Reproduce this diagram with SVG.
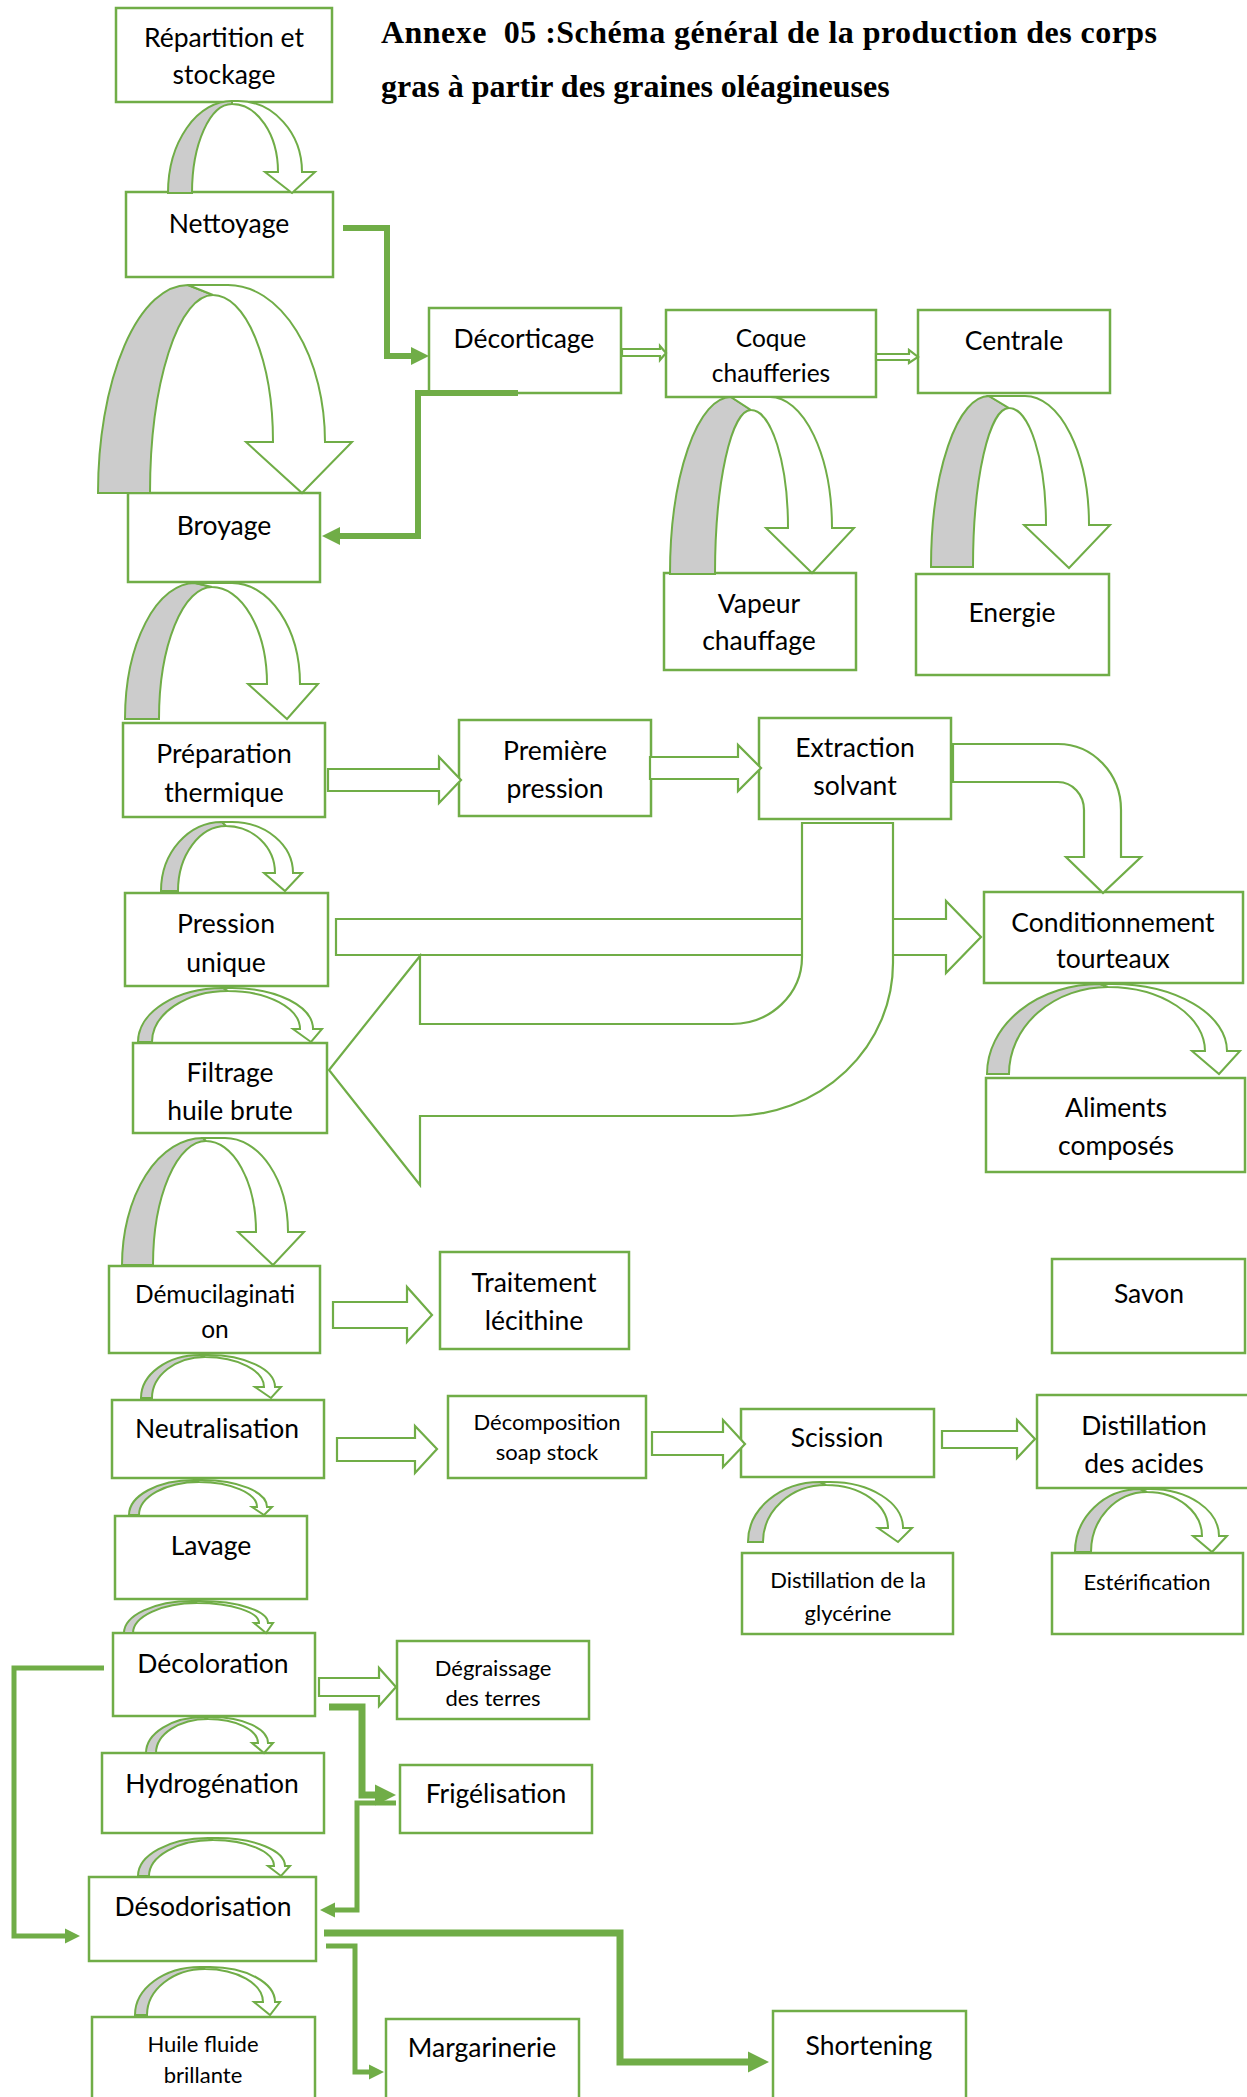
<svg xmlns="http://www.w3.org/2000/svg" width="1247" height="2097" viewBox="0 0 1247 2097">
<style>
.box{fill:#fff;stroke:#70AD47;stroke-width:2.5}
.t{font-family:Lato,"Liberation Sans",sans-serif;font-size:26.5px;fill:#000;text-anchor:middle}
.s{font-size:22px}
.m{font-size:24.5px}
.gr{fill:#CCCCCC;stroke:#70AD47;stroke-width:2;stroke-linejoin:miter}
.wh{fill:#fff;stroke:#70AD47;stroke-width:2;stroke-linejoin:miter}
.blk{fill:#fff;stroke:#70AD47;stroke-width:2.2}
.thk{fill:none;stroke:#70AD47;stroke-linejoin:miter}
.title{font-family:"Liberation Serif","Times New Roman",serif;font-weight:bold;font-size:32px;fill:#000}
</style>
<defs>
<marker id="ah" viewBox="0 0 10 10" refX="0" refY="5" markerWidth="3" markerHeight="3.4" markerUnits="strokeWidth" orient="auto">
<path d="M0,0 L10,5 L0,10 z" fill="#70AD47"/>
</marker>
</defs>
<rect width="1247" height="2097" fill="#fff"/>

<g id="title">
<text class="title" x="381" y="43" xml:space="preserve" textLength="776" lengthAdjust="spacing">Annexe  05 :Schéma général de la production des corps</text>
<text class="title" x="381" y="97">gras à partir des graines oléagineuses</text>
</g>

<g id="n-repartition"><rect class="box" x="116" y="8" width="216" height="94"/><text class="t" x="224" y="47">Répartition et</text><text class="t" x="224" y="84">stockage</text></g>
<g id="n-nettoyage"><rect class="box" x="126" y="192" width="207" height="85"/><text class="t" x="229" y="233">Nettoyage</text></g>
<g id="n-decorticage"><rect class="box" x="429" y="308" width="192" height="85"/><text class="t" x="524" y="348">Décorticage</text></g>
<g id="n-coque"><rect class="box" x="666" y="310" width="210" height="87"/><text class="t m" x="771" y="347">Coque</text><text class="t m" x="771" y="382">chaufferies</text></g>
<g id="n-centrale"><rect class="box" x="918" y="310" width="192" height="83"/><text class="t" x="1014" y="350">Centrale</text></g>
<g id="n-vapeur"><rect class="box" x="664" y="573" width="192" height="97"/><text class="t" x="759" y="613">Vapeur</text><text class="t" x="759" y="650">chauffage</text></g>
<g id="n-energie"><rect class="box" x="916" y="574" width="193" height="101"/><text class="t" x="1012" y="622">Energie</text></g>
<g id="n-broyage"><rect class="box" x="128" y="493" width="192" height="89"/><text class="t" x="224" y="535">Broyage</text></g>
<g id="n-preparation"><rect class="box" x="123" y="723" width="202" height="94"/><text class="t" x="224" y="763">Préparation</text><text class="t" x="224" y="802">thermique</text></g>
<g id="n-premiere"><rect class="box" x="459" y="720" width="192" height="96"/><text class="t" x="555" y="760">Première</text><text class="t" x="555" y="798">pression</text></g>
<g id="n-extraction"><rect class="box" x="759" y="718" width="192" height="101"/><text class="t" x="855" y="757">Extraction</text><text class="t" x="855" y="795">solvant</text></g>
<g id="n-conditionnement"><rect class="box" x="984" y="892" width="259" height="91"/><text class="t" x="1113" y="932">Conditionnement</text><text class="t" x="1113" y="968">tourteaux</text></g>
<g id="n-aliments"><rect class="box" x="986" y="1078" width="259" height="94"/><text class="t" x="1116" y="1117">Aliments</text><text class="t" x="1116" y="1155">composés</text></g>
<g id="n-pression"><rect class="box" x="125" y="893" width="203" height="93"/><text class="t" x="226" y="933">Pression</text><text class="t" x="226" y="972">unique</text></g>
<g id="n-filtrage"><rect class="box" x="133" y="1043" width="194" height="90"/><text class="t" x="230" y="1082">Filtrage</text><text class="t" x="230" y="1120">huile brute</text></g>
<g id="n-demucilagination"><rect class="box" x="109" y="1266" width="211" height="87"/><text class="t m" x="215" y="1303">Démucilaginati</text><text class="t m" x="215" y="1338">on</text></g>
<g id="n-traitement"><rect class="box" x="440" y="1252" width="189" height="97"/><text class="t" x="534" y="1292">Traitement</text><text class="t" x="534" y="1330">lécithine</text></g>
<g id="n-neutralisation"><rect class="box" x="112" y="1400" width="212" height="78"/><text class="t" x="217" y="1438">Neutralisation</text></g>
<g id="n-decomposition"><rect class="box" x="448" y="1396" width="198" height="82"/><text class="t s" x="547" y="1430">Décomposition</text><text class="t s" x="547" y="1460">soap stock</text></g>
<g id="n-lavage"><rect class="box" x="115" y="1516" width="192" height="83"/><text class="t" x="211" y="1555">Lavage</text></g>
<g id="n-scission"><rect class="box" x="741" y="1409" width="193" height="68"/><text class="t" x="837" y="1447">Scission</text></g>
<g id="n-distillation-acides"><rect class="box" x="1037" y="1395" width="215" height="93"/><text class="t" x="1144" y="1435">Distillation</text><text class="t" x="1144" y="1473">des acides</text></g>
<g id="n-savon"><rect class="box" x="1052" y="1259" width="193" height="94"/><text class="t" x="1149" y="1303">Savon</text></g>
<g id="n-glycerine"><rect class="box" x="742" y="1553" width="211" height="81"/><text class="t s" x="848" y="1588">Distillation de la</text><text class="t s" x="848" y="1621">glycérine</text></g>
<g id="n-esterification"><rect class="box" x="1052" y="1553" width="191" height="81"/><text class="t s" x="1147" y="1590">Estérification</text></g>
<g id="n-decoloration"><rect class="box" x="113" y="1633" width="202" height="83"/><text class="t" x="213" y="1673">Décoloration</text></g>
<g id="n-degraissage"><rect class="box" x="397" y="1641" width="192" height="78"/><text class="t s" x="493" y="1676">Dégraissage</text><text class="t s" x="493" y="1706">des terres</text></g>
<g id="n-frigelisation"><rect class="box" x="400" y="1765" width="192" height="68"/><text class="t" x="496" y="1803">Frigélisation</text></g>
<g id="n-hydrogenation"><rect class="box" x="102" y="1753" width="222" height="80"/><text class="t" x="212" y="1793">Hydrogénation</text></g>
<g id="n-desodorisation"><rect class="box" x="89" y="1877" width="227" height="84"/><text class="t" x="203" y="1916">Désodorisation</text></g>
<g id="n-huile"><rect class="box" x="92" y="2017" width="223" height="100"/><text class="t s" x="203" y="2052">Huile fluide</text><text class="t s" x="203" y="2083">brillante</text></g>
<g id="n-margarinerie"><rect class="box" x="386" y="2019" width="193" height="100"/><text class="t" x="482" y="2057">Margarinerie</text></g>
<g id="n-shortening"><rect class="box" x="773" y="2011" width="193" height="100"/><text class="t" x="869" y="2055">Shortening</text></g>

<g id="connectors">
<!-- curved arrows -->
<path class="gr" d="M168,193 A64,92 0 0 1 232,101 L232,104 A40,89 0 0 0 192,193 Z"/>
<path class="wh" d="M232,101 L238,101 A64,71 0 0 1 302,172 L315,172 L292,193 L265,172 L278,172 A46,68 0 0 0 232,104 Z"/>
<path class="gr" d="M98,493 A90,208 0 0 1 188,285 L213,295 A63,198 0 0 0 150,493 Z"/>
<path class="wh" d="M188,285 L228,285 A97,157 0 0 1 325,442 L352,442 L302,493 L246,442 L273,442 A60,147 0 0 0 213,295 Z"/>
<path class="gr" d="M125,719 A70,136 0 0 1 195,583 L212,587 A53,132 0 0 0 159,719 Z"/>
<path class="wh" d="M195,583 L232,583 A68,101 0 0 1 300,684 L318,684 L287,719 L248,684 L267,684 A55,97 0 0 0 212,587 Z"/>
<path class="gr" d="M161,891 A61,69 0 0 1 222,822 L226,826 A48,65 0 0 0 178,891 Z"/>
<path class="wh" d="M222,822 L232,822 A61,51 0 0 1 293,873 L302,873 L285,891 L264,873 L275,873 A49,47 0 0 0 226,826 Z"/>
<path class="gr" d="M138,1042 A85,54 0 0 1 223,988 L228,991 A76,51 0 0 0 152,1042 Z"/>
<path class="wh" d="M223,988 L232,988 A81,41 0 0 1 313,1029 L322,1029 L311,1042 L293,1029 L300,1029 A72,38 0 0 0 228,991 Z"/>
<path class="gr" d="M122,1265 A81,127 0 0 1 203,1138 L206,1141 A53,124 0 0 0 153,1265 Z"/>
<path class="wh" d="M203,1138 L225,1138 A63,94 0 0 1 288,1232 L304,1232 L273,1265 L238,1232 L256,1232 A50,91 0 0 0 206,1141 Z"/>
<path class="gr" d="M141,1398 A59,43 0 0 1 200,1355 L205,1357 A53,41 0 0 0 152,1398 Z"/>
<path class="wh" d="M200,1355 L208,1355 A67,32 0 0 1 275,1387 L281,1387 L271,1398 L255,1387 L264,1387 A59,30 0 0 0 205,1357 Z"/>
<path class="gr" d="M129,1515 A65,35 0 0 1 194,1480 L199,1482 A60,33 0 0 0 139,1515 Z"/>
<path class="wh" d="M194,1480 L202,1480 A65,27 0 0 1 267,1507 L272,1507 L264,1515 L252,1507 L257,1507 A58,25 0 0 0 199,1482 Z"/>
<path class="gr" d="M124,1633 A68,32 0 0 1 192,1601 L197,1603 A64,30 0 0 0 133,1633 Z"/>
<path class="wh" d="M192,1601 L200,1601 A68,22 0 0 1 268,1623 L273,1623 L266,1633 L254,1623 L259,1623 A62,20 0 0 0 197,1603 Z"/>
<path class="gr" d="M146,1753 A58,36 0 0 1 204,1717 L208,1719 A52,34 0 0 0 156,1753 Z"/>
<path class="wh" d="M204,1717 L212,1717 A56,26 0 0 1 268,1743 L273,1743 L264,1753 L252,1743 L258,1743 A50,24 0 0 0 208,1719 Z"/>
<path class="gr" d="M138,1876 A70,38 0 0 1 208,1838 L213,1840 A64,36 0 0 0 149,1876 Z"/>
<path class="wh" d="M208,1838 L217,1838 A68,28 0 0 1 285,1866 L290,1866 L281,1876 L268,1866 L274,1866 A61,26 0 0 0 213,1840 Z"/>
<path class="gr" d="M135,2015 A65,48 0 0 1 200,1967 L205,1969 A58,46 0 0 0 147,2015 Z"/>
<path class="wh" d="M200,1967 L210,1967 A65,35 0 0 1 275,2002 L280,2002 L270,2015 L254,2002 L263,2002 A58,33 0 0 0 205,1969 Z"/>
<path class="gr" d="M748,1542 A72,60 0 0 1 820,1482 L826,1485 A63,57 0 0 0 763,1542 Z"/>
<path class="wh" d="M820,1482 L830,1482 A73,46 0 0 1 903,1528 L912,1528 L898,1542 L878,1528 L888,1528 A62,43 0 0 0 826,1485 Z"/>
<path class="gr" d="M1075,1552 A65,63 0 0 1 1140,1489 L1147,1492 A56,60 0 0 0 1091,1552 Z"/>
<path class="wh" d="M1140,1489 L1150,1489 A69,47 0 0 1 1219,1536 L1227,1536 L1212,1552 L1193,1536 L1202,1536 A55,44 0 0 0 1147,1492 Z"/>
<path class="gr" d="M987,1074 A113,90 0 0 1 1100,984 L1108,987 A99,87 0 0 0 1009,1074 Z"/>
<path class="wh" d="M1100,984 L1112,984 A115,67 0 0 1 1227,1051 L1240,1051 L1219,1074 L1192,1051 L1205,1051 A97,64 0 0 0 1108,987 Z"/>
<path class="gr" d="M670,574 A61,177 0 0 1 731,397 L751,410 A36,164 0 0 0 715,574 Z"/>
<path class="wh" d="M731,397 L770,397 A62,131 0 0 1 832,528 L854,528 L812,573 L766,528 L788,528 A37,118 0 0 0 751,410 Z"/>
<path class="gr" d="M931,567 A58,171 0 0 1 989,396 L1009,408 A36,159 0 0 0 973,567 Z"/>
<path class="wh" d="M989,396 L1025,396 A64,129 0 0 1 1089,525 L1110,525 L1069,568 L1024,525 L1046,525 A37,117 0 0 0 1009,408 Z"/>

<!-- block arrows -->
<path class="blk" d="M622,349 H660 V346 L666,353 L660,360 V356 H622 Z"/>
<path class="blk" d="M876,354 H909 V350 L918,357 L909,363 V360 H876 Z"/>
<path class="blk" d="M328,769 H439 V757 L461,780 L439,803 V791 H328 Z"/>
<path class="blk" d="M650,757 H738 V745 L761,768 L738,791 V779 H650 Z"/>
<path class="blk" d="M333,1302 H407 V1287 L432,1315 L407,1342 V1328 H333 Z"/>
<path class="blk" d="M337,1438 H415 V1426 L437,1449 L415,1473 V1461 H337 Z"/>
<path class="blk" d="M652,1432 H723 V1420 L745,1444 L723,1467 V1455 H652 Z"/>
<path class="blk" d="M942,1431 H1017 V1420 L1035,1439 L1017,1458 V1448 H942 Z"/>
<path class="blk" d="M319,1678 H379 V1668 L396,1687 L379,1706 V1696 H319 Z"/>
<path class="blk" d="M953,744 H1058 A63,66 0 0 1 1121,810 V857 H1141 L1103,893 L1066,857 H1084 V810 A26,28 0 0 0 1058,782 H953 Z"/>
<path class="blk" d="M336,919 H946 V901 L981,937 L946,973 V955 H336 Z"/>
<path class="blk" d="M893,823 V963 A161,153 0 0 1 732,1116 H420 V1185 L329,1070 L420,956 V1024 H732 A70,67 0 0 0 802,957 V823 Z"/>

<!-- thick elbow connectors -->
<path class="thk" stroke-width="6" marker-end="url(#ah)" d="M343,228 H387 V356 H411"/>
<path class="thk" stroke-width="6" marker-end="url(#ah)" d="M518,393 H418 V536 H340"/>
<path class="thk" stroke-width="5" marker-end="url(#ah)" d="M104,1668 H14 V1936 H65"/>
<path class="thk" stroke-width="7" marker-end="url(#ah)" d="M329,1707 H362 V1795 H375"/>
<path class="thk" stroke-width="5" marker-end="url(#ah)" d="M396,1803 H357 V1910 H335"/>
<path class="thk" stroke-width="5" marker-end="url(#ah)" d="M326,1946 H355 V2072 H369"/>
<path class="thk" stroke-width="7" marker-end="url(#ah)" d="M324,1933 H620 V2062 H748"/>
</g>
</svg>
